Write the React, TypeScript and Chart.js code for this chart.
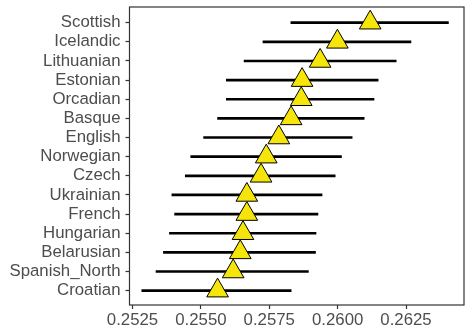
import React, { useEffect, useRef } from "react";
import { Chart, registerables } from "chart.js";

Chart.register(...registerables);

const categories = [
  "Scottish", "Icelandic", "Lithuanian", "Estonian", "Orcadian", "Basque", "English",
  "Norwegian", "Czech", "Ukrainian", "French", "Hungarian", "Belarusian", "Spanish_North", "Croatian",
];
const estimates = [
  0.26119, 0.25999, 0.25936, 0.2587, 0.25867, 0.2583, 0.25785,
  0.25739, 0.2572, 0.25668, 0.25668, 0.25654, 0.25644, 0.25618, 0.25561,
];
const lower = [
  0.25829, 0.25727, 0.25658, 0.25593, 0.25593, 0.25561, 0.2551,
  0.25463, 0.25443, 0.25394, 0.25404, 0.25385, 0.25363, 0.25336, 0.25284,
];
const upper = [
  0.26405, 0.26268, 0.26214, 0.26148, 0.26133, 0.26097, 0.26053,
  0.26014, 0.25991, 0.25943, 0.25928, 0.25921, 0.25919, 0.25893, 0.2583,
];
const xTicks = [0.2525, 0.255, 0.2575, 0.26, 0.2625];

const borderPlugin = {
  id: "panelBorder",
  afterDraw(chart: any) {
    const { ctx, chartArea } = chart;
    ctx.save();
    ctx.strokeStyle = "#333333";
    ctx.lineWidth = 1.2;
    ctx.strokeRect(chartArea.left, chartArea.top, chartArea.right - chartArea.left, chartArea.bottom - chartArea.top);
    ctx.restore();
  },
};

const zeroPad = (s: any) => {
  s.paddingTop = 0;
  s.paddingBottom = 0;
  s.paddingLeft = 0;
  s.paddingRight = 0;
};

export default function App() {
  const ref = useRef<HTMLCanvasElement | null>(null);
  useEffect(() => {
    document.body.style.margin = "0";
    const font = { family: "'Liberation Sans', Arial, sans-serif", size: 16.8 };
    const chart = new Chart(ref.current!, {
      type: "bar",
      data: {
        datasets: [
          {
            type: "scatter",
            data: estimates.map((v, i) => ({ x: v, y: i })),
            pointStyle: "triangle",
            pointRadius: 12.5,
            pointBackgroundColor: "#F5E50A",
            pointBorderColor: "#000000",
            pointBorderWidth: 1,
            order: 0,
            clip: false,
          } as any,
          {
            type: "bar",
            data: lower.map((v, i) => ({ x: [v, upper[i]], y: i })),
            backgroundColor: "#000000",
            borderWidth: 0,
            barThickness: 2,
            indexAxis: "y",
            order: 1,
          } as any,
        ],
      },
      options: {
        animation: false,
        responsive: false,
        events: [],
        indexAxis: "y",
        layout: { autoPadding: false, padding: { top: 7, right: 4, left: 0, bottom: 0 } },
        plugins: { legend: { display: false }, tooltip: { enabled: false } },
        scales: {
          x: {
            type: "linear",
            offset: false,
            min: 0.25239,
            max: 0.26462,
            afterBuildTicks: (s: any) => {
              s.ticks = xTicks.map((v) => ({ value: v }));
            },
            afterFit: (s: any) => {
              s.height = 31;
              zeroPad(s);
            },
            ticks: {
              callback: (v: any) => Number(v).toFixed(4),
              color: "#4D4D4D",
              font,
              padding: 1,
              maxRotation: 0,
              autoSkip: false,
            },
            grid: { offset: false, drawOnChartArea: false, drawTicks: true, tickLength: 4, color: "#333333", tickWidth: 1.2 },
            border: { display: false },
          },
          y: {
            type: "linear",
            offset: false,
            reverse: true,
            min: -0.82,
            max: 14.75,
            afterBuildTicks: (s: any) => {
              s.ticks = categories.map((_, i) => ({ value: i }));
            },
            afterFit: (s: any) => {
              s.width = 129.5;
              zeroPad(s);
            },
            ticks: {
              callback: (v: any) => categories[Number(v)],
              color: "#4D4D4D",
              font,
              padding: 5,
              autoSkip: false,
            },
            grid: { offset: false, drawOnChartArea: false, drawTicks: true, tickLength: 4, color: "#333333", tickWidth: 1.2 },
            border: { display: false },
          },
        },
      } as any,
      plugins: [borderPlugin],
    });
    return () => chart.destroy();
  }, []);
  return (
    <div style={{ position: "absolute", left: 0, top: 0, width: 468, height: 336, background: "#fff" }}>
      <canvas ref={ref} width={468} height={336} style={{ width: 468, height: 336 }} />
    </div>
  );
}
